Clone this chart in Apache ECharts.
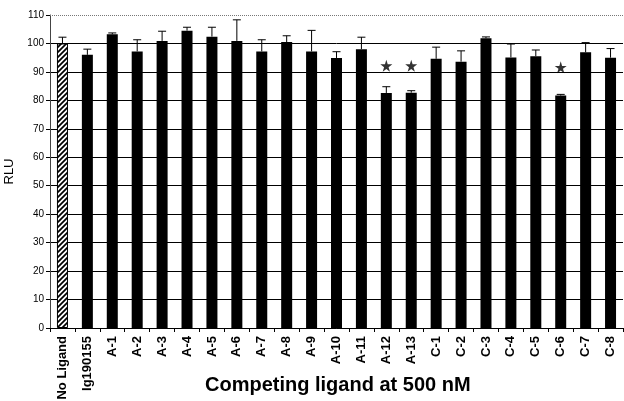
<!DOCTYPE html>
<html>
<head>
<meta charset="utf-8">
<script src="https://cdn.jsdelivr.net/npm/echarts@6/dist/echarts.min.js"></script>
<style>
  html, body { margin: 0; padding: 0; background: #fff; }
  #content { width: 624px; height: 401px; }
</style>
</head>
<body>
<div id="content"></div>
<script>
// categories along the x axis
var categories = ["No Ligand", "Ig190155", "A-1", "A-2", "A-3", "A-4", "A-5", "A-6", "A-7", "A-8", "A-9",
  "A-10", "A-11", "A-12", "A-13", "C-1", "C-2", "C-3", "C-4", "C-5", "C-6", "C-7", "C-8"];
// mean RLU
var rlu = [100, 96.0, 103.2, 97.2, 100.9, 104.5, 102.4, 100.9, 97.2, 100.5, 97.2,
  94.9, 98.0, 82.6, 82.7, 94.6, 93.6, 101.8, 95.1, 95.5, 81.7, 96.9, 95.0];
// upper end of the error bars
var errTop = [102.2, 98.0, 103.7, 101.3, 104.3, 105.7, 105.7, 108.3, 101.3, 102.7, 104.6,
  97.1, 102.2, 84.8, 83.4, 98.7, 97.4, 102.3, 99.8, 97.7, 82.1, 100.3, 98.2];
// significance stars: [category index, value]
var stars = [[13, 92.2], [14, 92.2], [20, 91.6]];
var yTicks = [0, 10, 20, 30, 40, 50, 60, 70, 80, 90, 100, 110];

// diagonal hatch for the control bar
function hatch() {
  var c = document.createElement("canvas");
  c.width = 5; c.height = 5;
  var ctx = c.getContext("2d");
  ctx.fillStyle = "#fff";
  ctx.fillRect(0, 0, 5, 5);
  ctx.strokeStyle = "#000";
  ctx.lineWidth = 1.7;
  ctx.beginPath();
  ctx.moveTo(-1, 6); ctx.lineTo(6, -1);
  ctx.moveTo(-3, 3); ctx.lineTo(3, -3);
  ctx.moveTo(2, 8); ctx.lineTo(8, 2);
  ctx.stroke();
  return c;
}

var myChart = echarts.init(document.getElementById("content"));
var font = "Liberation Sans, Arial, sans-serif";
var starPath = "path://M50,0 L61,35 L98,35 L68,57 L79,91 L50,70 L21,91 L32,57 L2,35 L39,35 Z";

var barData = rlu.map(function (v, i) {
  if (i === 0) {
    return { value: v, itemStyle: { color: { image: hatch(), repeat: "repeat" }, borderColor: "#000", borderWidth: 1 } };
  }
  return v;
});

var option = {
  animation: false,
  grid: { left: 50, right: 1, top: 15, bottom: 73, outerBoundsMode: "none", containLabel: false },
  xAxis: {
    type: "category",
    data: categories,
    axisLine: { lineStyle: { color: "#000", width: 1 } },
    axisTick: { show: true, length: 4, lineStyle: { color: "#000" } },
    axisLabel: {
      interval: 0,
      rotate: 90,
      margin: 8,
      color: "#000",
      fontWeight: "bold",
      fontSize: 13,
      fontFamily: font
    }
  },
  yAxis: {
    type: "value",
    min: yTicks[0],
    max: yTicks[yTicks.length - 1],
    interval: 10,
    name: "RLU",
    nameLocation: "middle",
    nameGap: 24,
    nameRotate: 90,
    nameTextStyle: { color: "#000", fontSize: 13, fontFamily: font },
    axisLine: { show: true, lineStyle: { color: "#444", width: 1 } },
    axisTick: { show: true, length: 4, lineStyle: { color: "#000" } },
    axisLabel: { color: "#000", fontSize: 10, fontFamily: font, margin: 6 },
    splitLine: { show: true, showMaxLine: false, lineStyle: { color: "#000", width: 1 } }
  },
  series: [
    {
      type: "bar",
      barWidth: 11,
      data: barData,
      itemStyle: { color: "#000" },
      markLine: {
        silent: true,
        symbol: "none",
        label: { show: false },
        lineStyle: { color: "#777", type: "dotted", width: 1 },
        data: [{ yAxis: 110 }]
      }
    },
    {
      type: "custom",
      data: errTop.map(function (v, i) { return [i, rlu[i], v]; }),
      renderItem: function (params, api) {
        var lo = api.coord([api.value(0), api.value(1)]);
        var hi = api.coord([api.value(0), api.value(2)]);
        var style = { stroke: "#000", lineWidth: 1 };
        return {
          type: "group",
          children: [
            { type: "line", shape: { x1: lo[0], y1: lo[1], x2: hi[0], y2: hi[1] }, style: style },
            { type: "line", shape: { x1: hi[0] - 4, y1: hi[1], x2: hi[0] + 4, y2: hi[1] }, style: style }
          ]
        };
      },
      z: 3
    },
    {
      type: "scatter",
      data: stars,
      symbol: starPath,
      symbolSize: 12,
      itemStyle: { color: "#000" }
    }
  ],
  graphic: [
    {
      type: "text",
      left: 205,
      top: 375,
      style: { text: "Competing ligand at 500 nM", fontSize: 20, fontWeight: "bold", fontFamily: font, fill: "#000" }
    }
  ]
};
myChart.setOption(option);
</script>
</body>
</html>
